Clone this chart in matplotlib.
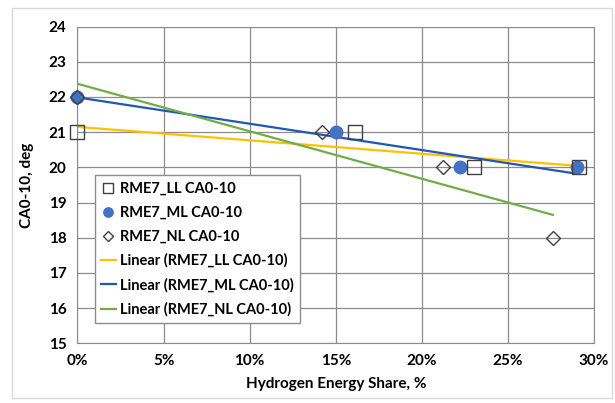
import numpy as np
import matplotlib.pyplot as plt
from matplotlib.patches import Rectangle

plt.rcParams['font.family'] = ['Lato', 'DejaVu Sans']
plt.rcParams['font.weight'] = 'bold'

# hydrogen energy share (%) and CA0-10 (deg) per series
ll_x = [0.0, 16.1, 23.0, 29.1]
ll_y = [21, 21, 20, 20]
ml_x = [0.0, 15.0, 22.2, 29.0]
ml_y = [22, 21, 20, 20]
nl_x = [0.0, 14.2, 21.2, 27.6]
nl_y = [22, 21, 20, 18]

series_names = ['RME7_LL CA0-10', 'RME7_ML CA0-10', 'RME7_NL CA0-10']
x_ticks = [0, 5, 10, 15, 20, 25, 30]
y_ticks = [15, 16, 17, 18, 19, 20, 21, 22, 23, 24]

fig = plt.figure(figsize=(6.15, 4.03), dpi=100)
fig.patches.append(Rectangle((0.02, 0.012), 0.975, 0.967, transform=fig.transFigure,
                             fill=False, edgecolor='#d9d9d9', linewidth=1))
ax = fig.add_axes([0.126, 0.148, 0.84, 0.786])

grey = '#8c8c8c'
ax.plot(ll_x, ll_y, linestyle='none', marker='s', markersize=10, markerfacecolor='none',
        markeredgecolor='#404040', markeredgewidth=1.0, label=series_names[0], zorder=4,
        clip_on=False)
ax.plot(ml_x, ml_y, linestyle='none', marker='o', markersize=9, color='#4472C4',
        label=series_names[1], zorder=3, clip_on=False)
ax.plot(nl_x, nl_y, linestyle='none', marker='D', markersize=7, markerfacecolor='none',
        markeredgecolor='#404040', markeredgewidth=1.0, label=series_names[2], zorder=4,
        clip_on=False)

# linear trendlines over each series' own x range
trend_colors = ['#FFC000', '#2157B5', '#70AD47']
for (xs, ys), name, c in zip([(ll_x, ll_y), (ml_x, ml_y), (nl_x, nl_y)], series_names, trend_colors):
    k, b = np.polyfit(xs, ys, 1)
    xx = np.array([min(xs), max(xs)])
    ax.plot(xx, k * xx + b, color=c, linewidth=1.6, label='Linear (' + name + ')', zorder=2)

ax.set_xlim(0, 30)
ax.set_ylim(15, 24)
ax.set_xticks(x_ticks)
ax.set_xticklabels([f'{t}%' for t in x_ticks])
ax.set_yticks(y_ticks)
ax.grid(True, color=grey, linewidth=0.9)
ax.set_axisbelow(True)
for s in ax.spines.values():
    s.set_color(grey)
ax.tick_params(length=0, labelsize=11, pad=8)
for lab in ax.get_xticklabels() + ax.get_yticklabels():
    lab.set_fontweight('bold')

ax.set_xlabel('Hydrogen Energy Share, %', fontsize=11, fontweight='bold', labelpad=6)
ax.set_ylabel('CA0-10, deg', fontsize=11, fontweight='bold', labelpad=10)

leg = ax.legend(loc='lower left', bbox_to_anchor=(0.019, 0.04), fontsize=10.5, frameon=True,
                fancybox=False, edgecolor=grey, framealpha=1, handlelength=1.0,
                handletextpad=0.3, borderpad=0.45, labelspacing=0.68, markerscale=0.75)
leg.get_frame().set_linewidth(1.0)
for t in leg.get_texts():
    t.set_fontweight('bold')

fig.savefig('out.png', dpi=100)
